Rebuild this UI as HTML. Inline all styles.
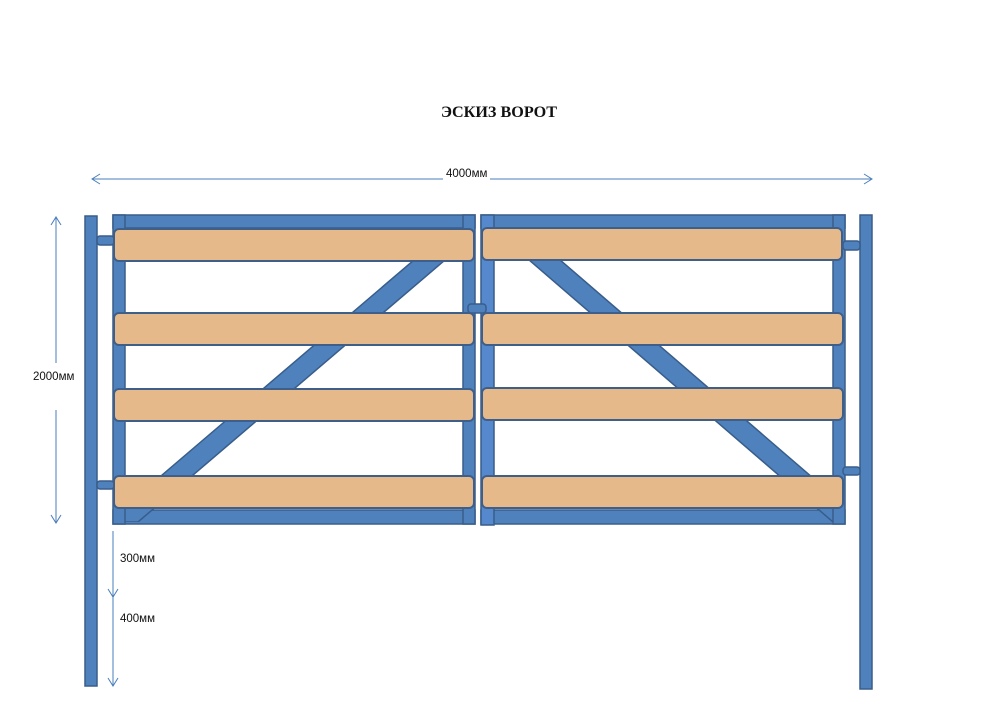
<!DOCTYPE html>
<html>
<head>
<meta charset="utf-8">
<style>
html,body{margin:0;padding:0;background:#fff;}
svg{display:block;}
</style>
</head>
<body>
<svg width="1000" height="707" viewBox="0 0 1000 707" xmlns="http://www.w3.org/2000/svg">
<defs>
<clipPath id="cl"><rect x="125" y="228" width="338" height="294"/></clipPath>
<clipPath id="cr"><rect x="494" y="228" width="339" height="294"/></clipPath>
</defs>
<rect width="1000" height="707" fill="#fff"/>

<!-- Title -->
<text x="499" y="117" font-family="'Liberation Serif', serif" font-weight="bold" font-size="16" text-anchor="middle" textLength="116" lengthAdjust="spacingAndGlyphs" fill="#111">ЭСКИЗ ВОРОТ</text>

<!-- Top dimension -->
<g stroke="#4a7ebb" stroke-width="1" fill="none">
<line x1="92" y1="179" x2="443" y2="179"/>
<line x1="490" y1="179" x2="872" y2="179"/>
<polyline points="100,174 92,179 100,184"/>
<polyline points="864,174 872,179 864,184"/>
<!-- left vertical dimension -->
<line x1="56" y1="217" x2="56" y2="363"/>
<line x1="56" y1="410" x2="56" y2="523"/>
<polyline points="51,225 56,217 61,225"/>
<polyline points="51,515 56,523 61,515"/>
<!-- 300/400 -->
<line x1="113" y1="531" x2="113" y2="686"/>
<polyline points="108,589 113,597 118,589"/>
<polyline points="108,678 113,686 118,678"/>
</g>
<g font-family="'Liberation Sans', sans-serif" font-size="11.5" fill="#111">
<text x="446" y="177">4000мм</text>
<text x="33" y="380">2000мм</text>
<text x="120" y="562">300мм</text>
<text x="120" y="622">400мм</text>
</g>

<g stroke="#385d8a" stroke-width="1.5" fill="#4f81bd">
<!-- posts -->
<rect x="85" y="216" width="12" height="470"/>
<rect x="860" y="215" width="12" height="474"/>

<!-- left gate rails -->
<rect x="113" y="215" width="362" height="13"/>
<rect x="113" y="510" width="362" height="14"/>
<!-- right gate rails -->
<rect x="481" y="215" width="364" height="13"/>
<rect x="481" y="510" width="364" height="14"/>

<!-- diagonals -->
<polygon clip-path="url(#cl)" points="451.5,228 482.5,228 138,522 107,522"/>
<polygon clip-path="url(#cr)" points="492,228 523,228 864,522 833,522"/>

<!-- stiles -->
<rect x="113" y="215" width="12" height="309"/>
<rect x="463" y="215" width="12" height="309"/>
<rect x="481" y="215" width="13" height="310" fill="#5588cc"/>
<rect x="833" y="215" width="12" height="309"/>

<!-- connectors -->
<rect x="97" y="236" width="17" height="9" rx="3"/>
<rect x="97" y="481" width="17" height="8" rx="3"/>
<rect x="468" y="304" width="18" height="9" rx="3"/>
<rect x="843" y="241" width="17" height="9" rx="3"/>
<rect x="843" y="467" width="17" height="8" rx="3"/>
</g>

<!-- planks -->
<g stroke="#3e5f8a" stroke-width="2" fill="#e5b98a">
<rect x="114" y="229" width="360" height="32" rx="5"/>
<rect x="114" y="313" width="360" height="32" rx="5"/>
<rect x="114" y="389" width="360" height="32" rx="5"/>
<rect x="114" y="476" width="360" height="32" rx="5"/>
<rect x="482" y="228" width="360" height="32" rx="5"/>
<rect x="482" y="313" width="361" height="32" rx="5"/>
<rect x="482" y="388" width="361" height="32" rx="5"/>
<rect x="482" y="476" width="361" height="32" rx="5"/>
</g>
</svg>
</body>
</html>
